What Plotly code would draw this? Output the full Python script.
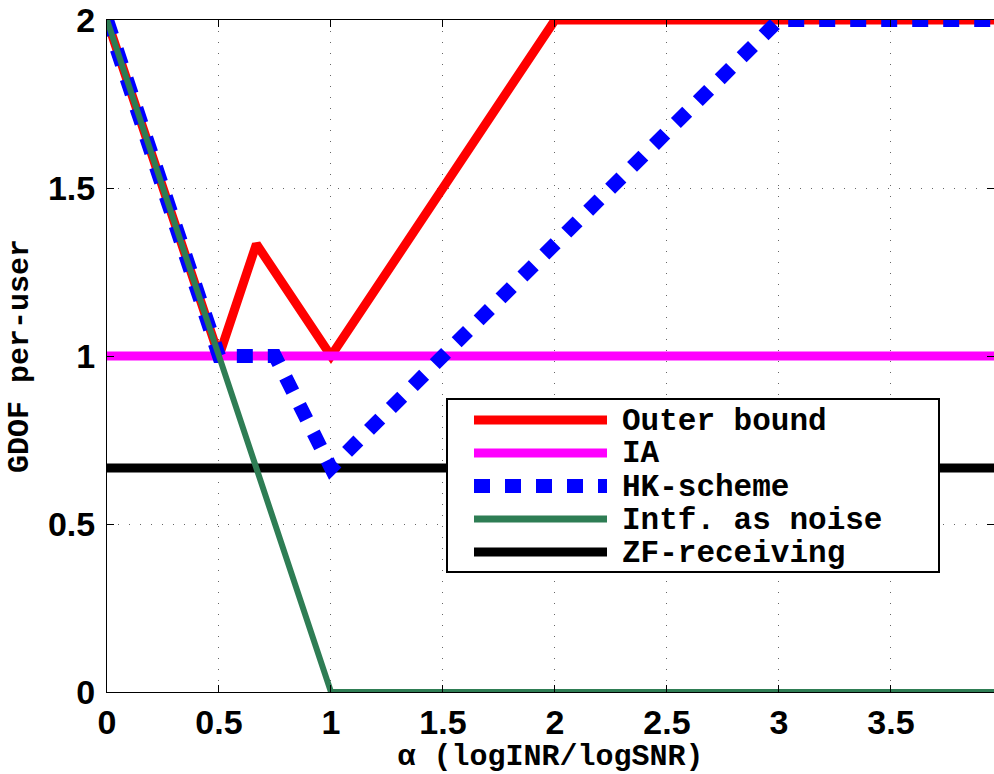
import plotly.graph_objects as go

# ---- data ----
outer_x = [0, 0.5, 0.667, 1, 2, 4]
outer_y = [2, 1, 1.333, 1, 2, 2]
ia_x = [0, 4]
ia_y = [1, 1]
hk_x = [0, 0.5, 0.75, 1, 3, 4]
hk_y = [2, 1, 1, 0.667, 2, 2]
ian_x = [0, 1, 4]
ian_y = [2, 0, 0]
zf_x = [0, 4]
zf_y = [0.667, 0.667]

names = ["Outer bound", "IA", "HK-scheme", "Intf. as noise", "ZF-receiving"]
x_ticks = [0, 0.5, 1, 1.5, 2, 2.5, 3, 3.5]
x_ticklabels = ["0", "0.5", "1", "1.5", "2", "2.5", "3", "3.5"]
y_ticks = [0, 0.5, 1, 1.5, 2]
y_ticklabels = ["0", "0.5", "1", "1.5", "2"]

styles = {
    "Outer bound": dict(color="#ff0000", width=9, dash="solid"),
    "IA": dict(color="#ff00ff", width=9, dash="solid"),
    "HK-scheme": dict(color="#0000ff", width=14, dash="16px,15px"),
    "Intf. as noise": dict(color="#2e7d54", width=6, dash="solid"),
    "ZF-receiving": dict(color="#000000", width=9, dash="solid"),
}
series = {
    "Outer bound": (outer_x, outer_y),
    "IA": (ia_x, ia_y),
    "HK-scheme": (hk_x, hk_y),
    "Intf. as noise": (ian_x, ian_y),
    "ZF-receiving": (zf_x, zf_y),
}
draw_order = ["Outer bound", "IA", "ZF-receiving", "HK-scheme", "Intf. as noise"]

W, H = 994, 774
ML, MR, MT, MB = 107, 0, 20, 82
PW, PH = W - ML - MR, H - MT - MB

fig = go.Figure()
for n in draw_order:
    xs, ys = series[n]
    fig.add_trace(go.Scatter(x=xs, y=ys, mode="lines", name=n, showlegend=False,
                             line=styles[n]))

def px2x(px):
    return (px - ML) / PW

def py2y(py):
    return (H - MB - py) / PH

shapes = []
annotations = []
# legend box
box_l, box_r, box_t, box_b = 447, 939, 399, 572
shapes.append(dict(type="rect", xref="paper", yref="paper",
                   x0=px2x(box_l), x1=px2x(box_r), y0=py2y(box_b), y1=py2y(box_t),
                   line=dict(color="black", width=2), fillcolor="white", layer="above"))
row0, pitch = 420, 33
for i, n in enumerate(names):
    cy = row0 + i * pitch
    st = styles[n]
    shapes.append(dict(type="line", xref="paper", yref="paper",
                       x0=px2x(474), x1=px2x(607), y0=py2y(cy), y1=py2y(cy),
                       line=dict(color=st["color"], width=min(st["width"], 15) if n != "Intf. as noise" else 7,
                                 dash=st["dash"]), layer="above"))
    annotations.append(dict(xref="paper", yref="paper", x=px2x(620), y=py2y(cy + 1),
                            xanchor="left", yanchor="middle", showarrow=False, text=n,
                            font=dict(family="Liberation Mono", size=31, color="black", weight="bold")))

tickfont = dict(family="Liberation Sans", size=34, color="black", weight="bold")
titlefont = dict(family="Liberation Mono", size=30, color="black", weight="bold")

fig.update_layout(
    width=W, height=H,
    margin=dict(l=ML, r=MR, t=MT, b=MB),
    paper_bgcolor="white", plot_bgcolor="white",
    shapes=shapes, annotations=annotations,
    showlegend=False,
    xaxis=dict(range=[0, 3.96], tickvals=x_ticks, ticktext=x_ticklabels,
               tickfont=tickfont, ticks="inside", ticklen=7, tickcolor="black",
               showline=True, linecolor="black", linewidth=1, mirror="ticks",
               showgrid=True, gridcolor="#666666", griddash="1px,10px", gridwidth=1,
               zeroline=False, ticklabelstandoff=0,
               title=dict(text="α (logINR/logSNR)", font=titlefont, standoff=2)),
    yaxis=dict(range=[0, 2], tickvals=y_ticks, ticktext=y_ticklabels,
               tickfont=tickfont, ticks="inside", ticklen=7, tickcolor="black",
               showline=True, linecolor="black", linewidth=1, mirror="ticks",
               showgrid=True, gridcolor="#666666", griddash="1px,10px", gridwidth=1,
               zeroline=False, ticklabelstandoff=4,
               title=dict(text="GDOF per-user", font=titlefont, standoff=10)),
)

fig.write_html("out.html")
